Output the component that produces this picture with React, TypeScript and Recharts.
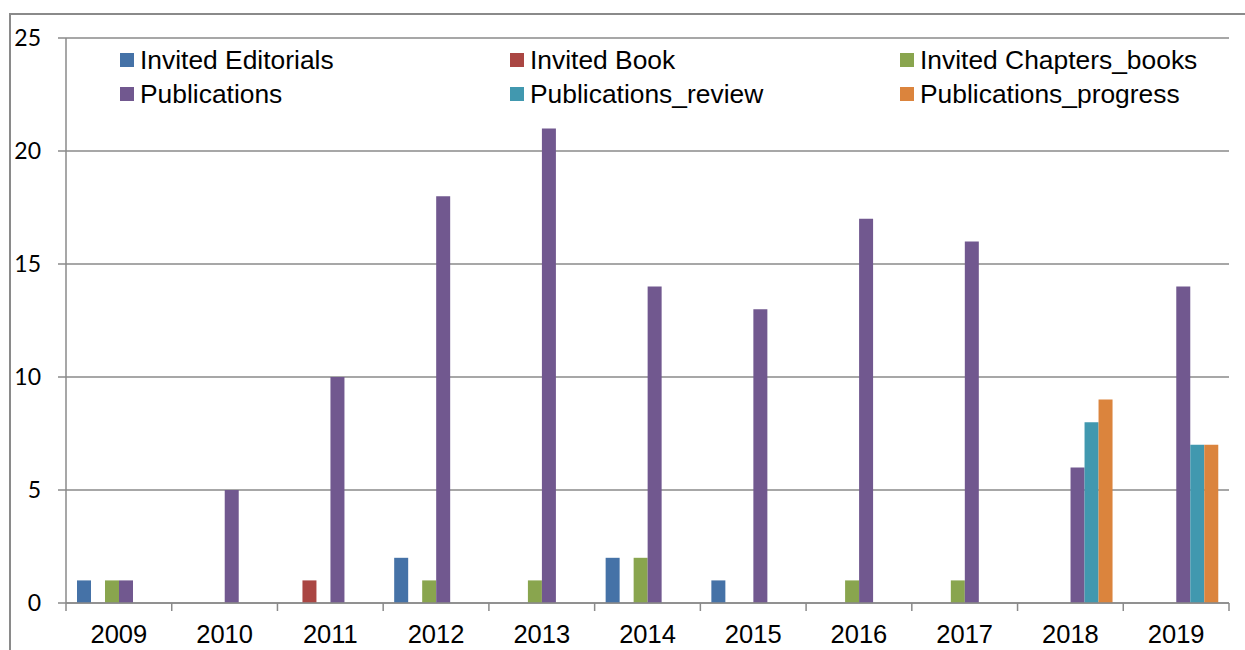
import React from 'react';
import { BarChart, Bar, XAxis, YAxis, CartesianGrid } from 'recharts';

const YEARS = ['2009', '2010', '2011', '2012', '2013', '2014', '2015', '2016', '2017', '2018', '2019'];
const EDITORIALS = [1, 0, 0, 2, 0, 2, 1, 0, 0, 0, 0];
const BOOK = [0, 0, 1, 0, 0, 0, 0, 0, 0, 0, 0];
const CHAPTERS = [1, 0, 0, 1, 1, 2, 0, 1, 1, 0, 0];
const PUBLICATIONS = [1, 5, 10, 18, 21, 14, 13, 17, 16, 6, 14];
const REVIEW = [0, 0, 0, 0, 0, 0, 0, 0, 0, 8, 7];
const PROGRESS = [0, 0, 0, 0, 0, 0, 0, 0, 0, 9, 7];
const Y_TICKS = [0, 5, 10, 15, 20, 25];

const SERIES = [
  { key: 'editorials', label: 'Invited Editorials', color: '#4572A7' },
  { key: 'book', label: 'Invited Book', color: '#AA4643' },
  { key: 'chapters', label: 'Invited Chapters_books', color: '#89A54E' },
  { key: 'publications', label: 'Publications', color: '#71588F' },
  { key: 'review', label: 'Publications_review', color: '#4198AF' },
  { key: 'progress', label: 'Publications_progress', color: '#DB843D' },
];

const data = YEARS.map((year, i) => ({
  year,
  editorials: EDITORIALS[i],
  book: BOOK[i],
  chapters: CHAPTERS[i],
  publications: PUBLICATIONS[i],
  review: REVIEW[i],
  progress: PROGRESS[i],
}));

const W = 1245;
const H = 650;
const PLOT_LEFT = 66;
const PLOT_RIGHT = 16;
const AXIS_GRAY = '#8a8a8a';
const BAND = (W - PLOT_LEFT - PLOT_RIGHT) / YEARS.length;

function YearTick(props: any) {
  const { x, y, payload, index } = props;
  const half = BAND / 2;
  return (
    <g>
      <line x1={x - half} y1={y} x2={x - half} y2={y + 8} stroke={AXIS_GRAY} strokeWidth={1.5} />
      {index === YEARS.length - 1 && (
        <line x1={x + half} y1={y} x2={x + half} y2={y + 8} stroke={AXIS_GRAY} strokeWidth={1.5} />
      )}
      <text
        x={x}
        y={y + 40}
        textAnchor="middle"
        fontFamily="'Liberation Sans', Arial, sans-serif"
        fontSize={25.5}
        fill="#000"
      >
        {payload.value}
      </text>
    </g>
  );
}

function LegendBox() {
  return (
    <div
      style={{
        position: 'absolute',
        left: 120,
        top: 46,
        display: 'grid',
        gridTemplateColumns: '390px 390px 390px',
        rowGap: 6,
        fontFamily: "'Liberation Sans', Arial, sans-serif",
        fontSize: 26.4,
        lineHeight: '28px',
        color: '#000',
      }}
    >
      {SERIES.map((s) => (
        <div key={s.key} style={{ display: 'flex', alignItems: 'center', whiteSpace: 'nowrap' }}>
          <span style={{ width: 14, height: 14, background: s.color, marginRight: 6, display: 'inline-block' }} />
          <span>{s.label}</span>
        </div>
      ))}
    </div>
  );
}

export default function App() {
  return (
    <div style={{ position: 'absolute', left: 0, top: 0, width: W, height: H, background: '#fff', overflow: 'hidden' }}>
      <div
        style={{
          position: 'absolute',
          left: 9,
          top: 13,
          width: W,
          height: H,
          borderLeft: `2px solid ${AXIS_GRAY}`,
          borderTop: `2px solid ${AXIS_GRAY}`,
        }}
      />
      <BarChart
        width={W}
        height={H}
        data={data}
        margin={{ top: 38, right: PLOT_RIGHT, left: 0, bottom: 0 }}
        barCategoryGap={11}
        barGap={0}
        style={{ position: 'absolute', left: 0, top: 0 }}
      >
        <CartesianGrid vertical={false} stroke={AXIS_GRAY} strokeWidth={1.5} />
        <XAxis
          dataKey="year"
          height={47}
          axisLine={{ stroke: AXIS_GRAY, strokeWidth: 1.5 }}
          tickLine={false}
          tickSize={0}
          tickMargin={0}
          tick={<YearTick />}
          interval={0}
        />
        <YAxis
          width={PLOT_LEFT}
          domain={[0, 25]}
          ticks={Y_TICKS}
          interval={0}
          axisLine={{ stroke: AXIS_GRAY, strokeWidth: 1.5 }}
          tickLine={{ stroke: AXIS_GRAY, strokeWidth: 1.5 }}
          tickSize={8}
          tickMargin={17}
          tick={{ fill: '#000', fontSize: 23, fontFamily: "Lato, 'Open Sans', sans-serif" }}
        />
        {SERIES.map((s) => (
          <Bar key={s.key} dataKey={s.key} name={s.label} fill={s.color} isAnimationActive={false} />
        ))}
      </BarChart>
      <LegendBox />
    </div>
  );
}
